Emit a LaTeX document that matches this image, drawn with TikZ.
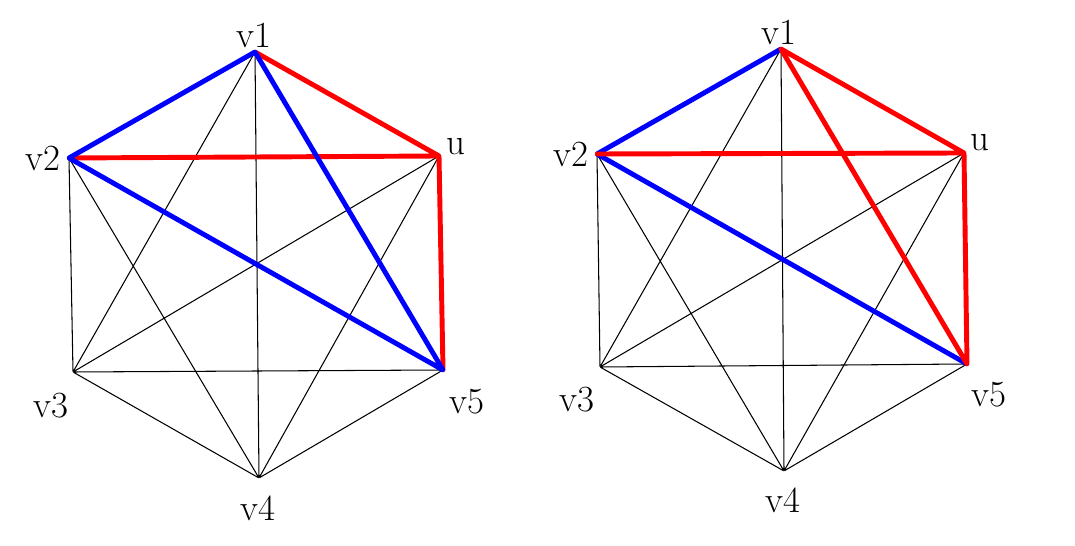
\documentclass[tikz,border=0pt]{standalone}
\usepackage{tikz}
\usetikzlibrary{arrows.meta,positioning,calc}

\begin{document}
\begin{tikzpicture}[x=0.02cm, y=-0.02cm, font=\fontsize{21}{24}\selectfont,
  vtx/.style={inner sep=0pt, minimum size=0pt},
  lbl/.style={inner sep=0pt, anchor=center},
  thin edge/.style={draw=black, line width=0.6pt},
  red edge/.style={draw=red, line width=2.8pt, line cap=round},
  blue edge/.style={draw=blue, line width=2.8pt, line cap=round}]
  \useasboundingbox (0,0) rectangle (1075,546);
  % left graph
  \node[vtx] (la1) at (255,52) {};
  \node[vtx] (lau) at (439,156) {};
  \node[vtx] (la2) at (69,158) {};
  \node[vtx] (la3) at (73,372) {};
  \node[vtx] (la5) at (443,370) {};
  \node[vtx] (la4) at (259,478) {};
  \node[lbl] (lt1) at (254,35) {v1};
  \node[lbl] (ltu) at (456,147) {u};
  \node[lbl] (lt2) at (43,158) {v2};
  \node[lbl] (lt3) at (51,406) {v3};
  \node[lbl] (lt5) at (467,402) {v5};
  \node[lbl] (lt4) at (258,508) {v4};
  \draw[thin edge] (la1)--(la3) (la1)--(la4) (la2)--(la3) (la2)--(la4)
    (lau)--(la3) (lau)--(la4) (la3)--(la4) (la3)--(la5) (la4)--(la5);
  \draw[red edge] (la1)--(lau) (la2)--(lau) (lau)--(la5);
  \draw[blue edge] (la1)--(la2) (la1)--(la5) (la2)--(la5);
  % right graph
  \node[vtx] (ra1) at (781,49) {};
  \node[vtx] (rau) at (964,153) {};
  \node[vtx] (ra2) at (597,154) {};
  \node[vtx] (ra3) at (600,367) {};
  \node[vtx] (ra5) at (967,364) {};
  \node[vtx] (ra4) at (784,471) {};
  \node[lbl] (rt1) at (779,32) {v1};
  \node[lbl] (rtu) at (980,143) {u};
  \node[lbl] (rt2) at (571,154) {v2};
  \node[lbl] (rt3) at (577,400) {v3};
  \node[lbl] (rt5) at (989,395) {v5};
  \node[lbl] (rt4) at (783,500) {v4};
  \draw[thin edge] (ra1)--(ra3) (ra1)--(ra4) (ra2)--(ra3) (ra2)--(ra4)
    (rau)--(ra3) (rau)--(ra4) (ra3)--(ra4) (ra3)--(ra5) (ra4)--(ra5);
  \draw[blue edge] (ra1)--(ra2) (ra2)--(ra5);
  \draw[red edge] (ra1)--(rau) (ra2)--(rau) (rau)--(ra5) (ra1)--(ra5);
\end{tikzpicture}
\end{document}
